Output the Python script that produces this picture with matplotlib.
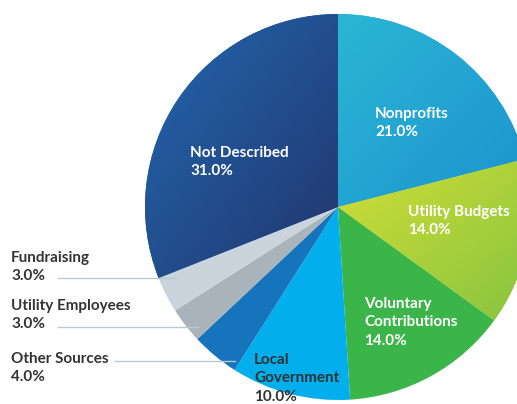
import matplotlib.pyplot as plt
import numpy as np
from matplotlib.colors import LinearSegmentedColormap

labels = ["Nonprofits", "Utility Budgets", "Voluntary\nContributions", "Local\nGovernment",
          "Other Sources", "Utility Employees", "Fundraising", "Not Described"]
values = [21.0, 14.0, 14.0, 10.0, 4.0, 3.0, 3.0, 31.0]
colors_a = ["#2bb6d4", "#d2de36", "#3bb54a", "#02aeec", "#1574bb", "#a9b4ba", "#c9d4dc", "#2268b0"]
colors_b = ["#1c93cf", "#86c441", "#3bb54a", "#02aeec", "#1574bb", "#a9b4ba", "#c9d4dc", "#22356c"]

W, H = 517, 404
fig = plt.figure(figsize=(W / 100, H / 100), dpi=100)
ax = fig.add_axes([0, 0, 1, 1])

cx, cy, r = 338, H - 207, 193
wedges, _ = ax.pie(values, startangle=90, counterclock=False, center=(cx, cy), radius=r,
                   colors=colors_a, wedgeprops=dict(linewidth=0), frame=True)
ax.axis("off")

# diagonal gradient fill clipped to each wedge
n = 200
gx, gy = np.meshgrid(np.linspace(0, 1, n), np.linspace(1, 0, n))
g = (gx + (1 - gy)) / 2
for w, ca, cb in zip(wedges, colors_a, colors_b):
    if ca == cb:
        continue
    cmap = LinearSegmentedColormap.from_list("g", [ca, cb])
    bb = w.get_path().get_extents()
    im = ax.imshow(g, cmap=cmap, extent=[bb.x0, bb.x1, bb.y0, bb.y1], origin="upper",
                   aspect="auto", zorder=w.get_zorder() + 0.1)
    im.set_clip_path(w)

ax.set_xlim(0, W)
ax.set_ylim(0, H)

font = dict(family=["Lato", "DejaVu Sans"], fontsize=11, fontweight="bold")

def label(x, y, name, pct, color):
    ax.text(x, H - y, name + "\n" + pct, color=color, va="top", ha="left",
            linespacing=1.4, zorder=10, **font)

inside = {0: (375, 107), 1: (408, 205), 2: (364, 297), 3: (254, 353), 7: (190, 146)}
for i, (x, y) in inside.items():
    c = "#333333" if i == 3 else "white"
    label(x, y, labels[i], "%.1f%%" % values[i], c)

outside = {6: (11, 251, 278, 58, 176), 5: (11, 299, 327, 58, 198), 4: (11, 352, 361, 115, 235)}
for i, (x, y, ly, x0, x1) in outside.items():
    label(x, y, labels[i], "%.1f%%" % values[i], "#333333")
    ax.plot([x0, x1], [H - ly, H - ly], color="#b9c9d2", lw=1, zorder=9)

fig.savefig("out.png", dpi=100)
